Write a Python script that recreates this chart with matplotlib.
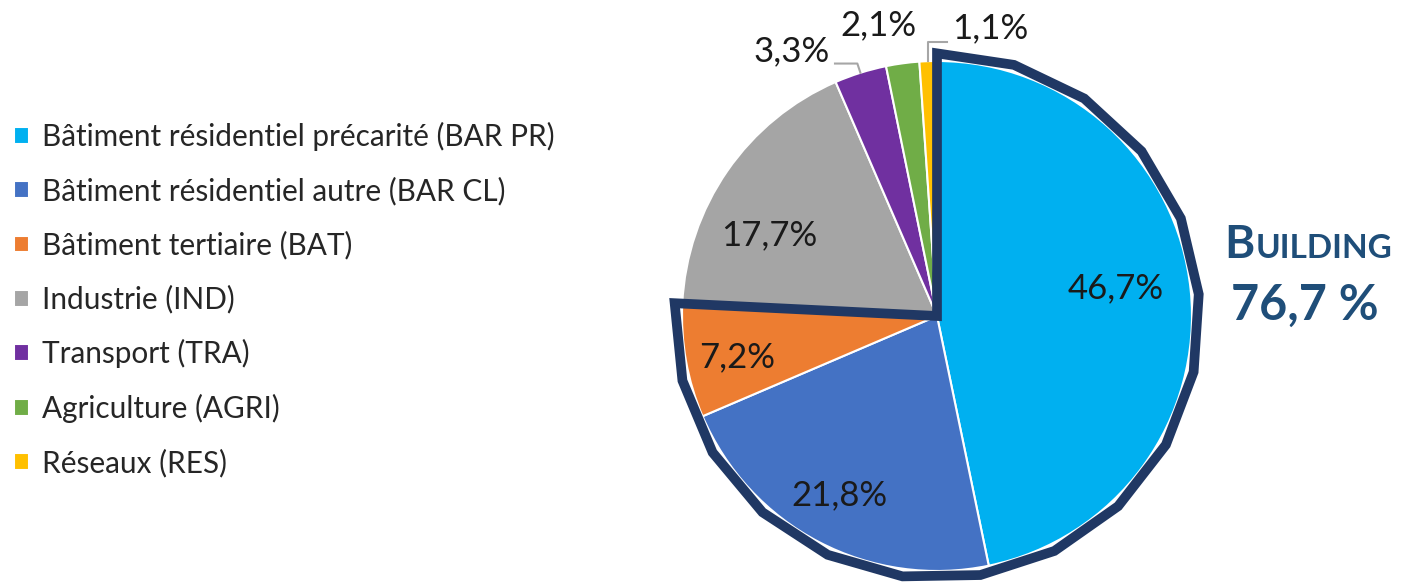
import numpy as np
import matplotlib.pyplot as plt
from matplotlib.patches import Polygon

# data
categories = ['Bâtiment résidentiel précarité (BAR PR)',
              'Bâtiment résidentiel autre (BAR CL)',
              'Bâtiment tertiaire (BAT)',
              'Industrie (IND)',
              'Transport (TRA)',
              'Agriculture (AGRI)',
              'Réseaux (RES)']
shares = [46.7, 21.8, 7.2, 17.7, 3.3, 2.1, 1.1]
pct_labels = ['46,7%', '21,8%', '7,2%', '17,7%', '3,3%', '2,1%', '1,1%']
colors = ['#00B0F0', '#4472C4', '#ED7D31', '#A5A5A5', '#7030A0', '#70AD47', '#FFC000']
building_share = '76,7 %'
n_building = 3  # first three slices are buildings

plt.rcParams['font.family'] = ['Lato', 'DejaVu Sans']

W, H = 1401, 584
fig = plt.figure(figsize=(W / 100, H / 100), dpi=100)

# pie position in pixels
cx, cy, R = 937, 316, 255
lim = 1.1
half = R * lim
ax = fig.add_axes([(cx - half) / W, (H - cy - half) / H, 2 * half / W, 2 * half / H])
wedges, _ = ax.pie(shares, colors=colors, startangle=90, counterclock=False,
                   radius=1, wedgeprops=dict(edgecolor='white', linewidth=1.5))
ax.set_xlim(-lim, lim)
ax.set_ylim(-lim, lim)
ax.axis('off')

# inside labels: (distance, angle tweak)
inside = {0: (0.71, 3), 1: (0.80, -1), 2: (0.80, 1.5), 3: (0.73, 9)}
txt_color = '#1a1a1a'
fs = 25
for i, (d, da) in inside.items():
    w = wedges[i]
    ang = np.deg2rad((w.theta1 + w.theta2) / 2 + da)
    ax.text(d * np.cos(ang), d * np.sin(ang), pct_labels[i], ha='center', va='center',
            fontsize=fs, color=txt_color)

# outside labels with leader lines
def mid(i):
    w = wedges[i]
    a = np.deg2rad((w.theta1 + w.theta2) / 2)
    return np.cos(a), np.sin(a)

lead = '#A6A6A6'
x4, y4 = mid(4)
ax.plot([x4, x4 * 1.04, -0.40], [y4, 0.99, 0.99], color=lead, lw=1.5, clip_on=False)
ax.text(-0.42, 1.04, pct_labels[4], ha='right', va='center', fontsize=fs, color=txt_color)
ax.text(-0.23, 1.14, pct_labels[5], ha='center', va='center', fontsize=fs, color=txt_color)
x6, y6 = mid(6)
ax.plot([x6, x6, 0.04], [y6, 1.075, 1.075], color=lead, lw=1.5, clip_on=False)
ax.text(0.06, 1.13, pct_labels[6], ha='left', va='center', fontsize=fs, color=txt_color)

# thick outline around the building slices
end = wedges[n_building - 1].theta1
angs = np.deg2rad(np.linspace(90, end, 17))
rr = 1.03
pts = [(0, 0)] + [(rr * np.cos(a), rr * np.sin(a)) for a in angs]
ax.add_patch(Polygon(pts, closed=True, fill=False, edgecolor='#203864', lw=7,
                     joinstyle='miter', clip_on=False))

# legend
fig.legend(wedges, categories, loc='upper left', bbox_to_anchor=(14 / W, 1 - 122 / H),
           frameon=False, fontsize=21.4, handlelength=0.5, handleheight=0.5,
           handletextpad=0.45, labelspacing=0.86, borderpad=0, borderaxespad=0,
           labelcolor='#262626')

# BUILDING annotation
navy = '#1F4E79'
fig.text(1224 / W, 1 - 258 / H, 'B', fontsize=33, fontweight='bold', color=navy, va='baseline')
fig.text(1256 / W, 1 - 258 / H, 'UILDING', fontsize=24, fontweight='bold', color=navy, va='baseline')
fig.text(1305 / W, 1 - 320 / H, building_share, fontsize=35, fontweight='bold', color=navy,
         va='baseline', ha='center')

fig.savefig('out.png', dpi=100)
